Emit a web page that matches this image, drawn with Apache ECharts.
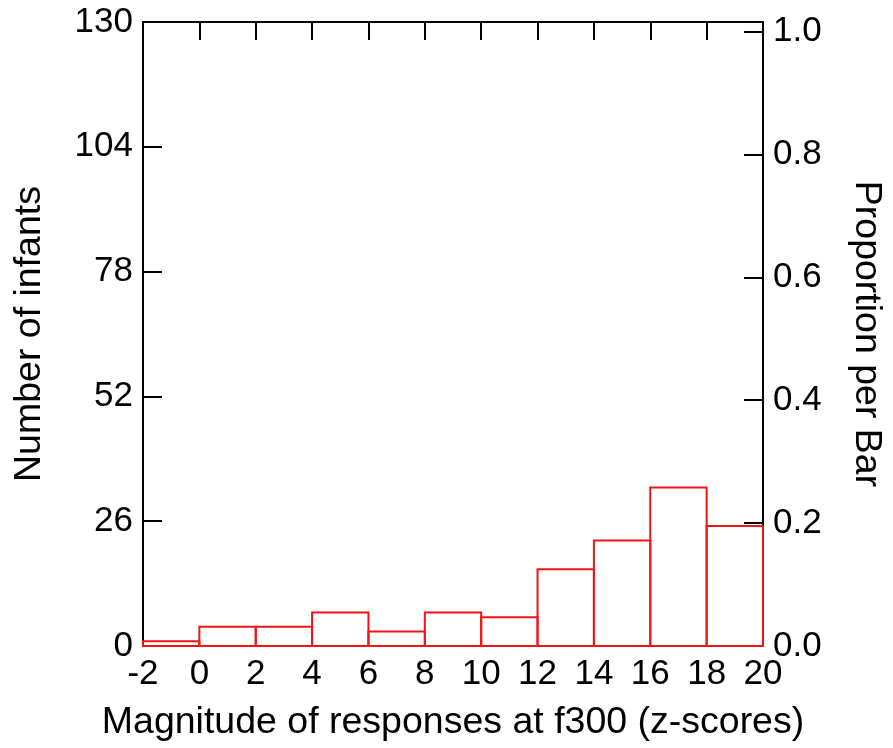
<!DOCTYPE html>
<html>
<head>
<meta charset="utf-8">
<script src="https://cdn.jsdelivr.net/npm/echarts@6/dist/echarts.min.js"></script>
<style>html,body{margin:0;padding:0;background:#fff}#c{width:893px;height:748px}</style>
</head>
<body>
<div id="c"></div>
<script>
// Histogram bin edges (z-scores) and counts of infants per bin
const binEdges = [-2, 0, 2, 4, 6, 8, 10, 12, 14, 16, 18, 20];
const counts = [1, 4, 4, 7, 3, 7, 6, 16, 22, 33, 25];
const leftTicks = [0, 26, 52, 78, 104, 130];
const rightTicks = [0, 0.2, 0.4, 0.6, 0.8, 1.0];
const xTicks = [-2, 0, 2, 4, 6, 8, 10, 12, 14, 16, 18, 20];

const total = counts.reduce((a, b) => a + b, 0);
const yMax = leftTicks[leftTicks.length - 1];
const barData = counts.map((c, i) => [binEdges[i], binEdges[i + 1], c]);

const FONT = 'Liberation Sans, Arial, sans-serif';
const black = '#000';
const red = '#f01414';
const TICK_FS = 35;
const TITLE_FS = 37.5;

const chart = echarts.init(document.getElementById('c'), null, {renderer: 'canvas'});
chart.setOption({
  animation: false,
  backgroundColor: '#fff',
  grid: {left: 143, right: 123, top: 22, bottom: 102, containLabel: false},
  xAxis: [{
    type: 'value', position: 'bottom',
    min: xTicks[0], max: xTicks[xTicks.length - 1], interval: 2,
    name: 'Magnitude of responses at f300 (z-scores)',
    nameLocation: 'middle', nameGap: 58,
    nameTextStyle: {fontFamily: FONT, fontSize: TITLE_FS, color: black},
    axisLine: {show: true, onZero: false, lineStyle: {color: black, width: 2}},
    axisTick: {show: false},
    splitLine: {show: false},
    axisLabel: {fontFamily: FONT, fontSize: TICK_FS, color: black, margin: 11}
  }, {
    type: 'value', position: 'top',
    min: xTicks[0], max: xTicks[xTicks.length - 1], interval: 2,
    axisLine: {show: true, onZero: false, lineStyle: {color: black, width: 2}},
    axisTick: {show: true, inside: true, length: 18, lineStyle: {color: black, width: 2}},
    axisLabel: {show: false},
    splitLine: {show: false}
  }],
  yAxis: [{
    type: 'value', position: 'left',
    min: 0, max: yMax, interval: 26,
    name: 'Number of infants',
    nameLocation: 'middle', nameGap: 94, nameRotate: 90,
    nameTextStyle: {fontFamily: FONT, fontSize: TITLE_FS, color: black},
    axisLine: {show: true, onZero: false, lineStyle: {color: black, width: 2}},
    axisTick: {show: true, inside: true, length: 19, lineStyle: {color: black, width: 2}},
    axisLabel: {fontFamily: FONT, fontSize: TICK_FS, color: black, margin: 10},
    splitLine: {show: false}
  }, {
    type: 'value', position: 'right',
    min: 0, max: yMax / total,
    name: 'Proportion per Bar',
    nameLocation: 'middle', nameGap: 84, nameRotate: -90,
    nameTextStyle: {fontFamily: FONT, fontSize: TITLE_FS, color: black},
    axisLine: {show: true, onZero: false, lineStyle: {color: black, width: 2}},
    axisTick: {show: true, inside: true, length: 19, customValues: rightTicks, lineStyle: {color: black, width: 2}},
    axisLabel: {fontFamily: FONT, fontSize: TICK_FS, color: black, margin: 10,
      customValues: rightTicks, formatter: v => v.toFixed(1)},
    splitLine: {show: false}
  }],
  series: [{
    type: 'custom',
    xAxisIndex: 0, yAxisIndex: 0,
    encode: {x: [0, 1], y: 2},
    data: barData,
    renderItem: function (params, api) {
      const p0 = api.coord([api.value(0), api.value(2)]);
      const p1 = api.coord([api.value(1), 0]);
      return {
        type: 'rect',
        shape: {x: p0[0], y: p0[1], width: p1[0] - p0[0], height: p1[1] - p0[1]},
        style: {fill: 'none', stroke: red, lineWidth: 2}
      };
    }
  }]
});
</script>
</body>
</html>
